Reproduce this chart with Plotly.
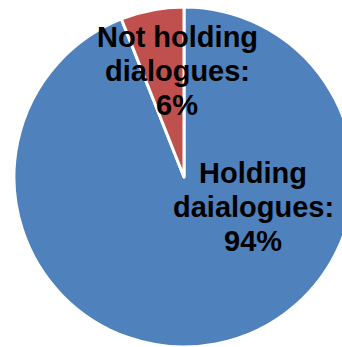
import plotly.graph_objects as go

# Share of respondents by dialogue status
labels = ["Holding<br>daialogues", "Not holding<br>dialogues"]
values = [94, 6]
colors = ["#4F81BD", "#C0504D"]

W, H = 354, 347

# Caption placement for each slice: centre x and the top line's centre y (pixels)
caption_x = [253, 177]
caption_top = [173, 37]
line_step = 34

fig = go.Figure(
    go.Pie(
        labels=labels,
        values=values,
        sort=False,
        direction="clockwise",
        rotation=0,
        marker=dict(colors=colors, line=dict(color="white", width=3)),
        textinfo="none",
        hoverinfo="label+percent",
        domain=dict(x=[14 / W, 1], y=[0, 340 / H]),
        showlegend=False,
    )
)

for lab, val, cx, cy in zip(labels, values, caption_x, caption_top):
    lines = lab.split("<br>")
    lines[-1] += ":"
    lines.append(f"{val}%")
    for i, line in enumerate(lines):
        fig.add_annotation(
            x=cx / W, y=1 - (cy + i * line_step) / H,
            xref="paper", yref="paper",
            text=f"<b>{line}</b>",
            showarrow=False,
            xanchor="center", yanchor="middle",
            font=dict(family="Arial, Liberation Sans, sans-serif", size=29, color="black"),
        )

fig.update_layout(
    width=W, height=H,
    margin=dict(l=0, r=0, t=0, b=0),
    paper_bgcolor="white",
    plot_bgcolor="white",
)

fig.write_html("out.html")
